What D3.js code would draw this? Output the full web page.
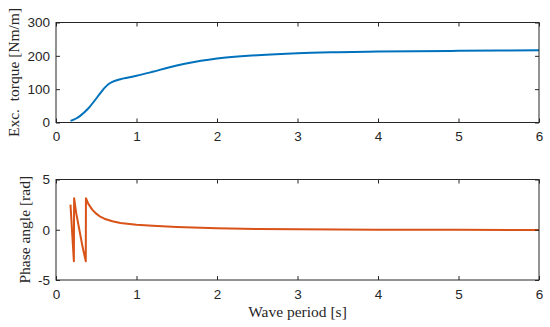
<!DOCTYPE html>
<html>
<head>
<meta charset="utf-8">
<script src="https://cdn.jsdelivr.net/npm/d3@7"></script>
<style>
  body { margin: 0; background: #fff; }
  .tick text { font-family: "Liberation Sans", Arial, sans-serif; font-size: 13.5px; fill: #262626; }
  .lab { font-family: "Liberation Serif", "Times New Roman", serif; font-size: 15.5px; fill: #262626; white-space: pre; }
</style>
</head>
<body>
<svg id="chart" width="550" height="327"></svg>
<script>
// excitation torque and phase angle vs wave period

// top panel: torque
const torqueT = [0.18, 0.25, 0.3, 0.4, 0.5, 0.55, 0.6, 0.65, 0.7, 0.8, 0.9, 1.0, 1.2, 1.4, 1.6, 1.8, 2.0, 2.5, 3.0, 3.5, 4.0, 5.0, 6.0];
const torqueV = [5, 12, 20, 42, 72, 88, 103, 115, 122, 130, 135, 140, 152, 165, 176, 185, 192, 202, 208, 211, 213, 215, 217];

// bottom panel: phase (wrapped)
const phaseT = [0.18, 0.222, 0.225, 0.25, 0.29, 0.33, 0.37, 0.372, 0.4, 0.45, 0.5, 0.55, 0.6, 0.7, 0.8, 1.0, 1.2, 1.5, 2.0, 2.5, 3.0, 4.0, 5.0, 6.0];
const phaseV = [2.5, -3.14, 3.14, 1.7, 0, -1.7, -3.14, 3.14, 2.6, 2.0, 1.6, 1.3, 1.1, 0.85, 0.68, 0.5, 0.4, 0.27, 0.14, 0.08, 0.04, 0.01, -0.01, -0.03];

const xTicks = [0, 1, 2, 3, 4, 5, 6];
const torqueTicks = [0, 100, 200, 300];
const phaseTicks = [-5, 0, 5];

const svg = d3.select("#chart");
const left = 56, right = 539;
const axColor = "#262626";
const fmt = d => String(d);   // plain hyphen minus like the original

const x = d3.scaleLinear().domain([0, 6]).range([left, right]);

function panel(top, bottom, yDomain, yTicks, xs, ys, color, label, labelX, curve) {
    const y = d3.scaleLinear().domain(yDomain).range([bottom, top]);
    const g = svg.append("g");

    const pts = xs.map((d, i) => [d, ys[i]]);
    g.append("path")
        .datum(pts)
        .attr("d", d3.line().x(d => x(d[0])).y(d => y(d[1])).curve(curve))
        .style("fill", "none")
        .style("stroke", color)
        .style("stroke-width", 2)
        .style("stroke-linejoin", "round");

    // axes, ticks inside, box on
    const xb = g.append("g").attr("transform", `translate(0,${bottom})`)
        .call(d3.axisBottom(x).tickValues(xTicks).tickSize(-4).tickPadding(9).tickFormat(fmt));
    const xt = g.append("g").attr("transform", `translate(0,${top})`)
        .call(d3.axisTop(x).tickValues(xTicks).tickSize(-4).tickFormat(""));
    const yl = g.append("g").attr("transform", `translate(${left},0)`)
        .call(d3.axisLeft(y).tickValues(yTicks).tickSize(-4).tickPadding(6).tickFormat(fmt));
    const yr = g.append("g").attr("transform", `translate(${right},0)`)
        .call(d3.axisRight(y).tickValues(yTicks).tickSize(-4).tickFormat(""));
    [xb, xt, yl, yr].forEach(a => {
        a.selectAll("path, line").attr("stroke", axColor);
        a.select(".domain").attr("d", null);
    });
    g.append("rect")
        .attr("x", left).attr("y", top)
        .attr("width", right - left).attr("height", bottom - top)
        .style("fill", "none").style("stroke", axColor).style("stroke-width", 1);

    g.append("text")
        .attr("class", "lab")
        .attr("transform", `translate(${labelX},${(top + bottom) / 2}) rotate(-90)`)
        .attr("text-anchor", "middle")
        .text(label);
}

panel(22.5, 122.5, [0, 300], torqueTicks, torqueT, torqueV, "#0072BD", "Exc.  torque [Nm/m]", 19, d3.curveMonotoneX);
panel(179.5, 280, [-5, 5], phaseTicks, phaseT, phaseV, "#D95319", "Phase angle [rad]", 30, d3.curveLinear);

svg.append("text")
    .attr("class", "lab")
    .attr("x", (left + right) / 2)
    .attr("y", 317)
    .attr("text-anchor", "middle")
    .text("Wave period [s]");
</script>
</body>
</html>
